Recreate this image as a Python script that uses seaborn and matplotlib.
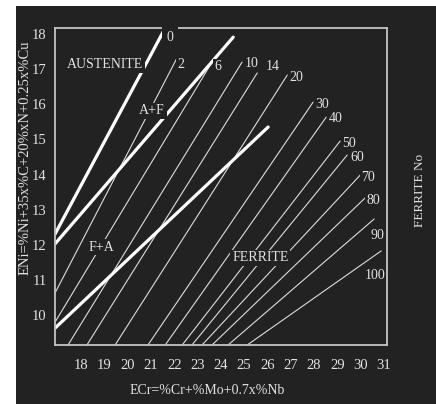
import matplotlib
matplotlib.use("Agg")
import matplotlib.pyplot as plt
import matplotlib.transforms as mtransforms
from matplotlib.patches import Rectangle
import pandas as pd
import seaborn as sns

# Iso-ferrite-number lines: labelled upper end and lower end (ECr, ENi)
fn_numbers = [2, 6, 10, 14, 20, 30, 40, 50, 60, 70, 80, 90, 100]
fn_top_ecr = [22.12, 23.62, 24.91, 25.56, 26.85, 27.96, 28.52, 29.12, 29.42, 29.98, 30.24, 30.58, 30.88]
fn_top_eni = [17.21, 17.09, 17.09, 16.78, 16.72, 15.95, 15.52, 14.84, 14.44, 13.87, 13.25, 12.62, 11.71]
fn_low_ecr = [16.88, 16.88, 17.44, 18.25, 19.46, 20.87, 21.61, 22.34, 22.76, 23.19, 23.62, 24.31, 25.13]
fn_low_eni = [10.51, 9.68, 9.03, 9.03, 9.03, 9.03, 9.03, 9.03, 9.03, 9.03, 9.03, 9.03, 9.03]

# Ferrite-number label positions
fn_label_ecr = [22.29, 23.88, 25.34, 26.24, 27.23, 28.35, 28.91, 29.51, 29.85, 30.32, 30.54, 30.71, 30.60]
fn_label_eni = [17.01, 16.95, 17.06, 16.95, 16.64, 15.87, 15.47, 14.78, 14.36, 13.79, 13.16, 12.16, 11.02]

# Phase boundaries (heavy lines)
bound_names = ["FN0", "A/A+F", "F+A/F"]
bound_low_ecr = [16.88, 16.88, 16.88]
bound_low_eni = [12.19, 11.91, 9.51]
bound_top_ecr = [21.61, 24.53, 26.03]
bound_top_eni = [18.06, 17.80, 15.24]

# Phase-field names and positions
region_names = ["AUSTENITE", "A+F", "F+A", "FERRITE"]
region_ecr = [19.03, 21.05, 18.86, 25.69]
region_eni = [17.01, 15.70, 11.82, 11.51]

x_ticks = list(range(18, 32))
y_ticks = list(range(10, 19))

BG = "#222222"
SPINE = "#c4c4c4"
INK = "#e2e2e2"
LINE = "#dcdcdc"

sns.set_style("dark", {"axes.facecolor": BG})
plt.rcParams["font.family"] = ["Liberation Serif", "DejaVu Serif"]

fig = plt.figure(figsize=(4.36, 4.04), dpi=100, facecolor="white")
fig.patches.append(Rectangle((16 / 436, 0), 420 / 436, 398 / 404,
                             transform=fig.transFigure, facecolor=BG,
                             edgecolor="none", zorder=-10))
ax = fig.add_axes([55 / 436, 1 - 345 / 404, 332 / 436, 317 / 404])
ax.set_zorder(1)
ax.set_facecolor(BG)

thin = pd.DataFrame({
    "ECr": fn_low_ecr + fn_top_ecr,
    "ENi": fn_low_eni + fn_top_eni,
    "FN": fn_numbers + fn_numbers,
})
thick = pd.DataFrame({
    "ECr": bound_low_ecr + bound_top_ecr,
    "ENi": bound_low_eni + bound_top_eni,
    "line": bound_names + bound_names,
})

sns.lineplot(data=thin, x="ECr", y="ENi", units="FN", estimator=None,
             color=LINE, linewidth=0.8, ax=ax, legend=False)
sns.lineplot(data=thick, x="ECr", y="ENi", units="line", estimator=None,
             color="white", linewidth=2.3, ax=ax, legend=False)

# Labels sit on a background-coloured box that breaks the lines beneath,
# but stay under the frame so the spines remain unbroken.
label_box = dict(boxstyle="square,pad=0.12", facecolor=BG, edgecolor="none")
for n, x, y in zip(fn_numbers, fn_label_ecr, fn_label_eni):
    ax.text(x, y, str(n), color=INK, fontsize=10, ha="center", va="center",
            bbox=label_box, zorder=2.4)
ax.text(21.82, 17.78, "0", color=INK, fontsize=10, ha="center", va="center",
        bbox=dict(boxstyle="square,pad=0.35", facecolor=BG, edgecolor="none"),
        zorder=5, clip_on=False)
for name, x, y in zip(region_names, region_ecr, region_eni):
    ax.text(x, y, name, color=INK, fontsize=10, ha="center", va="center",
            bbox=label_box, zorder=2.4)

ax.set_xlim(16.88, 31.13)
ax.set_ylim(9.03, 18.06)
ax.set_xticks(x_ticks)
ax.set_yticks(y_ticks)
ax.set_xlabel("")
ax.set_ylabel("")
ax.grid(False)
for side in ["left", "right", "top", "bottom"]:
    ax.spines[side].set_visible(True)
    ax.spines[side].set_color(SPINE)
    ax.spines[side].set_linewidth(1.3)
ax.tick_params(axis="both", direction="inout", length=6, width=1,
               color=SPINE, labelcolor=INK, labelsize=10.5)
ax.tick_params(axis="x", pad=7)
ax.tick_params(axis="y", pad=3)

shift = mtransforms.ScaledTranslation(0, -4 / 100, fig.dpi_scale_trans)
for tick in ax.yaxis.get_major_ticks():
    tick.label1.set_transform(tick.label1.get_transform() + shift)

fig.text(207 / 436, 1 - 390 / 404, "ECr=%Cr+%Mo+0.7x%Nb", color=INK,
         fontsize=10, ha="center", va="center")
fig.text(25 / 436, 1 - 158 / 404, "ENi=%Ni+35x%C+20%xN+0.25x%Cu", color=INK,
         fontsize=10.5, ha="center", va="center", rotation=90)
fig.text(420 / 436, 1 - 190 / 404, "FERRITE No", color=INK,
         fontsize=9.5, ha="center", va="center", rotation=90)

fig.savefig("out.png", dpi=100, facecolor="white")
